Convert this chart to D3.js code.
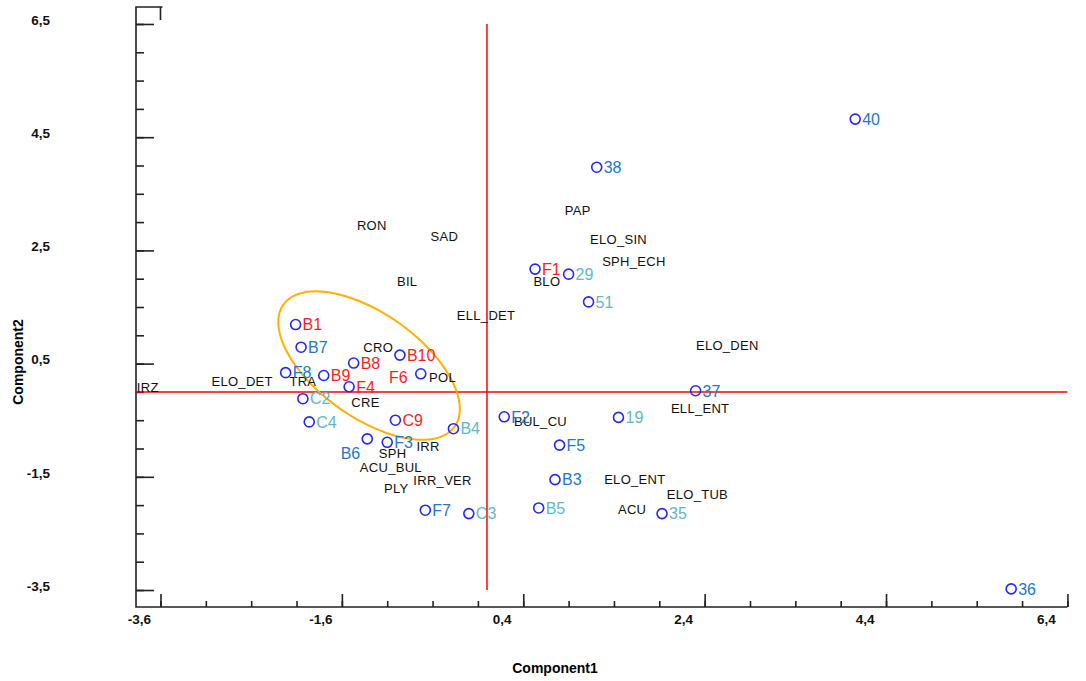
<!DOCTYPE html>
<html>
<head>
<meta charset="utf-8">
<script src="https://cdn.jsdelivr.net/npm/d3@7"></script>
<style>
  body { margin: 0; background: #fff; }
  text { font-family: "Liberation Sans", Arial, sans-serif; }
</style>
</head>
<body>
<div id="container"></div>
<script>
/* CONSTANTS AND GLOBALS */
const width = 1086,
  height = 681,
  margin = {top: 7, bottom: 74, left: 136, right: -5};

/* DATA */
// observations (points with a circle)
const obsNames = ["B1","B7","F8","B9","B8","F4","B10","F6","C2","C4","C9","B4","B6","F3","F7","C3",
  "F2","19","F5","B3","B5","35","37","F1","29","51","38","40","36"];
const obsX = [-2.11,-2.05,-2.22,-1.80,-1.47,-1.52,-0.96,-0.73,-2.03,-1.96,-1.01,-0.37,-1.32,-1.10,-0.68,-0.20,
  0.19,1.45,0.80,0.75,0.57,1.93,2.30,0.53,0.90,1.12,1.21,4.06,5.78];
const obsY = [1.19,0.79,0.34,0.29,0.51,0.09,0.65,0.32,-0.12,-0.53,-0.50,-0.65,-0.83,-0.89,-2.09,-2.15,
  -0.44,-0.45,-0.94,-1.55,-2.05,-2.15,0.02,2.17,2.08,1.59,3.97,4.82,-3.48];
const obsGroup = ["r","b","b","r","r","r","r","r","t","t","r","t","b","b","b","t",
  "b","t","b","b","t","t","b","r","t","t","b","b","b"];

// variables (text only)
const varNames = ["RON","SAD","BIL","ELL_DET","CRO","POL","CRE","TRA","ELO_DET","IRZ","SPH","IRR",
  "ACU_BUL","PLY","IRR_VER","BUL_CU","PAP","ELO_SIN","SPH_ECH","BLO","ELO_DEN","ELL_ENT","ELO_ENT","ELO_TUB","ACU"];
const varX = [-1.27,-0.47,-0.88,-0.01,-1.20,-0.49,-1.34,-2.03,-2.70,-3.74,-1.04,-0.65,
  -1.06,-1.00,-0.49,0.59,1.00,1.45,1.62,0.66,2.65,2.35,1.63,2.32,1.60];
const varY = [2.94,2.75,1.95,1.35,0.78,0.25,-0.19,0.19,0.19,0.08,-1.09,-0.97,
  -1.34,-1.70,-1.56,-0.52,3.20,2.69,2.31,1.95,0.82,-0.30,-1.54,-1.81,-2.07];

// ticks
const xMajor = [-3.6,-1.6,0.4,2.4,4.4,6.4];
const xTickLabels = ["-3,6","-1,6","0,4","2,4","4,4","6,4"];
const yMajor = [-3.5,-1.5,0.5,2.5,4.5,6.5];
const yTickLabels = ["-3,5","-1,5","0,5","2,5","4,5","6,5"];

// ellipse around the B group (centre and half axes in data units)
const ellipseCenter = [-1.30, 0.465];
const ellipseMajor = [0.944, -1.078];
const ellipseMinor = [-0.333, -0.747];

const groupColor = {r: "#ff1c1c", b: "#2277cc", t: "#62b8c2"};
const labelLeft = ["F6"], labelBelowLeft = ["B6"];

/* SCALES */
const xScale = d3.scaleLinear()
  .domain([-3.87, 6.66])
  .range([margin.left, width - margin.right]);

const yScale = d3.scaleLinear()
  .domain([-3.8, 6.8])
  .range([height - margin.bottom, margin.top]);

const svg = d3.select("#container").append("svg")
  .attr("width", width)
  .attr("height", height)
  .style("background-color", "white");

/* AXES */
const xMinor = d3.range(-3.6, 6.41, 0.5);
const yMinor = d3.range(-3.5, 6.51, 0.5);

const bottomY = yScale.range()[0], topY = yScale.range()[1];
const leftX = xScale.range()[0];

const xAxisMinor = d3.axisBottom(xScale).tickValues(xMinor).tickSize(-6).tickFormat("");
const xAxisMajor = d3.axisBottom(xScale).tickValues(xMajor).tickSize(-13).tickFormat("");
const yAxisMinor = d3.axisLeft(yScale).tickValues(yMinor).tickSize(-8).tickFormat("");
const yAxisMajor = d3.axisLeft(yScale).tickValues(yMajor).tickSize(-18).tickFormat("");

[[xAxisMinor, `translate(0,${bottomY})`], [xAxisMajor, `translate(0,${bottomY})`],
 [yAxisMinor, `translate(${leftX},0)`], [yAxisMajor, `translate(${leftX},0)`]]
  .forEach(([ax, tr]) => {
    svg.append("g").attr("transform", tr).call(ax)
      .call(g => g.selectAll("line").attr("stroke", "#222").attr("stroke-width", 1.6))
      .call(g => g.select(".domain").remove());
  });

// axis lines: bottom ends at the last tick, left spans full height, short stub on top
svg.append("path")
  .attr("d", `M${xScale(-3.6) + 2},${topY}H${leftX}V${bottomY}H${xScale(6.4)}`)
  .attr("fill", "none").attr("stroke", "#222").attr("stroke-width", 1.6);
svg.append("line")
  .attr("x1", xScale(-3.6)).attr("x2", xScale(-3.6))
  .attr("y1", topY).attr("y2", topY + 13)
  .attr("stroke", "#222").attr("stroke-width", 1.6);

// tick labels (sit a bit left of their tick, like the original)
svg.append("g").selectAll("text")
  .data(xMajor)
  .join("text")
  .attr("x", d => xScale(d) - 21)
  .attr("y", bottomY + 17)
  .attr("text-anchor", "middle")
  .attr("font-size", 13.5)
  .attr("font-weight", "bold")
  .attr("fill", "#111")
  .text((d, i) => xTickLabels[i]);

svg.append("g").selectAll("text")
  .data(yMajor)
  .join("text")
  .attr("x", 50)
  .attr("y", d => yScale(d) - 4)
  .attr("dy", "0.35em")
  .attr("text-anchor", "end")
  .attr("font-size", 13.5)
  .attr("font-weight", "bold")
  .attr("fill", "#111")
  .text((d, i) => yTickLabels[i]);

// axis titles
svg.append("text")
  .attr("x", 555).attr("y", 673)
  .attr("text-anchor", "middle")
  .attr("font-size", 14).attr("font-weight", "bold")
  .text("Component1");

svg.append("text")
  .attr("transform", "translate(23,362) rotate(-90)")
  .attr("text-anchor", "middle")
  .attr("font-size", 14).attr("font-weight", "bold")
  .text("Component2");

/* ZERO LINES */
svg.append("line")
  .attr("x1", leftX).attr("x2", xScale(6.4))
  .attr("y1", yScale(0)).attr("y2", yScale(0))
  .attr("stroke", "#ff0000").attr("stroke-width", 1.5);

svg.append("line")
  .attr("x1", xScale(0)).attr("x2", xScale(0))
  .attr("y1", yScale(6.5)).attr("y2", yScale(-3.5))
  .attr("stroke", "#ff0000").attr("stroke-width", 1.5);

/* ELLIPSE */
const ellipsePts = d3.range(0, 2 * Math.PI, Math.PI / 36).map(t => [
  ellipseCenter[0] + Math.cos(t) * ellipseMajor[0] + Math.sin(t) * ellipseMinor[0],
  ellipseCenter[1] + Math.cos(t) * ellipseMajor[1] + Math.sin(t) * ellipseMinor[1]
]);
svg.append("path")
  .datum(ellipsePts)
  .attr("d", d3.line().x(d => xScale(d[0])).y(d => yScale(d[1])).curve(d3.curveCardinalClosed))
  .attr("fill", "none")
  .attr("stroke", "#ffb100")
  .attr("stroke-width", 2);

/* VARIABLE LABELS */
svg.append("g").selectAll("text")
  .data(varNames)
  .join("text")
  .attr("x", (d, i) => xScale(varX[i]))
  .attr("y", (d, i) => yScale(varY[i]))
  .attr("dy", "0.35em")
  .attr("text-anchor", "middle")
  .attr("font-size", 13)
  .attr("letter-spacing", 0.3)
  .attr("fill", "#111")
  .text(d => d);

/* OBSERVATIONS */
const obs = obsNames.map((n, i) => ({name: n, x: obsX[i], y: obsY[i], g: obsGroup[i]}));

svg.selectAll(".dot")
  .data(obs)
  .join("circle")
  .attr("class", "dot")
  .attr("cx", d => xScale(d.x))
  .attr("cy", d => yScale(d.y))
  .attr("r", 5)
  .attr("fill", "none")
  .attr("stroke", "#2626ff")
  .attr("stroke-width", 1.6);

svg.selectAll(".lab")
  .data(obs)
  .join("text")
  .attr("class", "lab")
  .attr("x", d => {
    if (labelLeft.includes(d.name)) return xScale(d.x) - 13;
    if (labelBelowLeft.includes(d.name)) return xScale(d.x) - 7;
    return xScale(d.x) + 7;
  })
  .attr("y", d => {
    if (labelLeft.includes(d.name)) return yScale(d.y) + 3;
    if (labelBelowLeft.includes(d.name)) return yScale(d.y) + 14;
    return yScale(d.y);
  })
  .attr("dy", "0.36em")
  .attr("text-anchor", d => (labelLeft.includes(d.name) || labelBelowLeft.includes(d.name)) ? "end" : "start")
  .attr("font-size", 16)
  .attr("fill", d => groupColor[d.g])
  .text(d => d.name);
</script>
</body>
</html>
